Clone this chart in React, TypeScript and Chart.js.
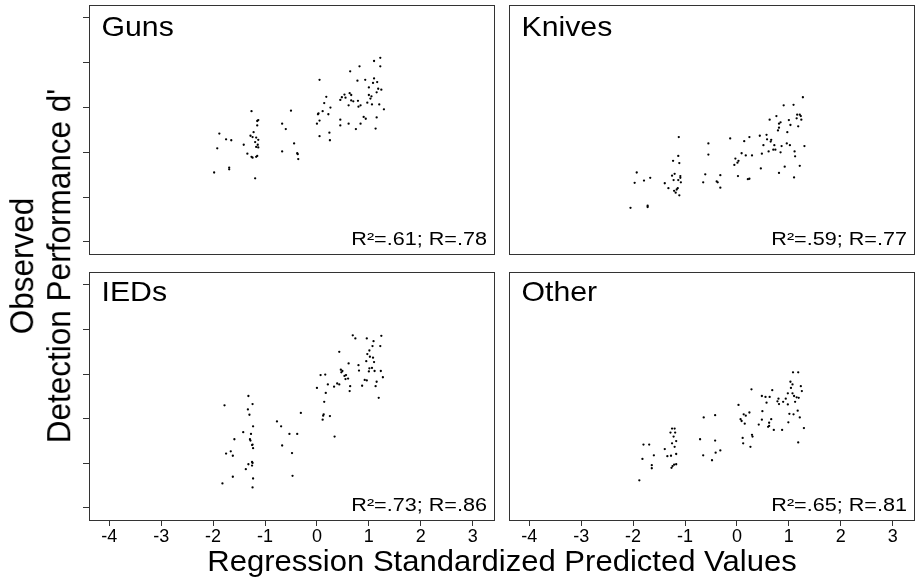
import React, { useEffect, useRef } from 'react';
import { Chart, registerables } from 'chart.js';

Chart.register(...registerables);

// ---------- data ----------
const xTickValues = [-4, -3, -2, -1, 0, 1, 2, 3];
const xTickLabels = ['-4', '-3', '-2', '-1', '0', '1', '2', '3'];
const yTickValues = [0, 1, 2, 3, 4, 5];
const xMin = -4.39;
const xMax = 3.41;
const yMin = -0.27;
const yMax = 5.29;

const panelNames = ['Guns', 'Knives', 'IEDs', 'Other'];
const fitTexts = ['R\u00B2=.61; R=.78', 'R\u00B2=.59; R=.77', 'R\u00B2=.73; R=.86', 'R\u00B2=.65; R=.81'];
const xAxisTitle = 'Regression Standardized Predicted Values';
const yAxisTitleLines = ['Observed', "Detection Performance d'"];

const gunsX = [1.22, 1.10, 0.82, 1.22, 0.64, 0.05, 0.93, 0.78, 1.10, 1.08, 1.16, 1.00, 1.18, 1.24, 1.15, 0.63, 0.66, 0.53, 1.00, 1.05, 0.18, 0.48, 0.55, 1.03, 0.45, 0.66, 0.70, 0.79, 0.97, 0.14, 1.06, 1.20, 0.61, 0.80, 0.84, 0.26, 1.29, 0.11, -1.26, -0.50, 0.03, 0.02, 0.22, 0.90, 0.94, 1.15, 0.45, -1.13, -1.15, 0.05, -0.67, -1.15, 0.00, 0.45, 0.61, 0.84, -0.60, 0.75, 1.13, 0.24, -1.22, -1.88, -1.28, -1.24, -1.17, -1.75, -1.65, -1.13, 0.05, 0.25, -1.19, -1.41, -1.14, -0.44, -1.17, -1.13, -1.92, -1.34, -0.67, -0.38, -0.37, -1.26, -1.24, -1.17, -1.15, -0.36, -1.69, -1.69, -1.98, -1.19];
const gunsY = [4.11, 4.04, 3.92, 3.92, 3.81, 3.62, 3.62, 3.60, 3.65, 3.55, 3.57, 3.45, 3.42, 3.40, 3.34, 3.32, 3.28, 3.29, 3.28, 3.25, 3.24, 3.23, 3.22, 3.20, 3.17, 3.16, 3.14, 3.15, 3.11, 3.10, 3.07, 3.07, 3.05, 3.02, 3.05, 3.00, 2.96, 2.92, 2.92, 2.93, 2.87, 2.85, 2.85, 2.79, 2.75, 2.78, 2.73, 2.72, 2.70, 2.71, 2.64, 2.60, 2.64, 2.60, 2.64, 2.64, 2.52, 2.52, 2.53, 2.44, 2.45, 2.42, 2.37, 2.34, 2.33, 2.29, 2.27, 2.28, 2.36, 2.27, 2.23, 2.17, 2.17, 2.20, 2.12, 2.11, 2.09, 1.97, 2.02, 1.98, 1.96, 1.90, 1.88, 1.90, 1.92, 1.85, 1.66, 1.62, 1.55, 1.42];

const knivesX = [1.27, 0.90, 1.09, 0.76, 1.16, 1.21, 1.23, 1.15, 1.24, 0.63, 1.00, 0.84, 0.81, 1.03, 1.18, 0.81, 0.79, 0.97, -1.12, -0.13, 0.24, 0.44, 0.57, 0.14, 0.58, 0.66, 0.65, -0.55, 0.51, 0.72, 0.96, 1.02, 0.86, 0.70, 0.74, 0.61, 0.48, 0.84, 1.11, 1.30, 0.09, 0.17, 0.29, 1.12, -0.55, -1.13, -1.23, -1.11, -0.03, 0.03, 0.01, -0.05, 0.92, 1.21, 0.46, -1.93, 0.81, -0.61, -0.32, -1.20, -1.25, -1.09, -1.09, -1.67, 0.02, 1.10, -1.97, -1.79, -1.22, -1.13, -1.08, -1.39, -0.65, -0.39, -0.37, 0.21, 0.24, -1.32, -1.14, -1.16, -1.21, -1.18, -0.32, -1.11, -1.72, -1.72, -2.05];
const knivesY = [3.23, 3.05, 3.06, 2.81, 2.84, 2.84, 2.81, 2.76, 2.73, 2.73, 2.72, 2.67, 2.64, 2.61, 2.58, 2.55, 2.49, 2.45, 2.34, 2.31, 2.34, 2.37, 2.39, 2.25, 2.29, 2.28, 2.24, 2.20, 2.16, 2.16, 2.20, 2.16, 2.14, 2.06, 2.06, 2.02, 1.97, 2.00, 2.02, 2.14, 1.98, 1.93, 1.93, 1.91, 1.95, 1.92, 1.81, 1.76, 1.86, 1.81, 1.77, 1.72, 1.68, 1.70, 1.64, 1.55, 1.54, 1.51, 1.49, 1.52, 1.48, 1.47, 1.43, 1.43, 1.47, 1.44, 1.32, 1.37, 1.38, 1.38, 1.33, 1.31, 1.33, 1.35, 1.33, 1.40, 1.41, 1.20, 1.20, 1.17, 1.14, 1.10, 1.21, 1.04, 0.81, 0.78, 0.76];

const iedsX = [0.69, 0.74, 0.96, 1.24, 1.09, 1.07, 1.22, 0.43, 1.01, 0.97, 1.02, 1.08, 1.10, 0.95, 0.61, 0.80, 0.81, 1.01, 1.06, 1.00, 1.11, 1.23, 0.46, 0.49, 0.47, 0.07, 0.16, 0.53, 0.56, 0.55, 0.60, 1.27, 0.92, 0.96, 1.15, 0.39, 0.43, 0.21, 0.33, 0.64, 0.87, 1.13, 0.00, 0.63, 0.17, 1.19, -1.32, -1.78, -1.24, 0.14, -1.33, -1.30, -0.31, 0.13, 0.12, 0.25, 0.11, -0.77, -0.69, -1.23, -1.42, -1.27, -0.53, -0.38, 0.34, -1.29, -1.28, -1.59, -1.24, -1.25, -0.67, -1.23, -1.66, -1.75, -1.62, -0.48, -1.25, -1.24, -1.32, -1.25, -1.37, -0.47, -1.62, -1.23, -1.82, -1.24];
const iedsY = [3.87, 3.80, 3.80, 3.86, 3.74, 3.63, 3.63, 3.50, 3.53, 3.45, 3.39, 3.37, 3.27, 3.29, 3.24, 3.20, 3.08, 3.13, 3.14, 3.06, 3.07, 3.07, 3.10, 3.07, 3.04, 2.98, 2.99, 2.96, 2.98, 2.89, 2.90, 2.93, 2.87, 2.86, 2.83, 2.79, 2.77, 2.77, 2.72, 2.73, 2.74, 2.73, 2.69, 2.62, 2.58, 2.47, 2.51, 2.30, 2.33, 2.38, 2.21, 2.09, 2.13, 2.10, 2.07, 2.06, 1.98, 1.94, 1.83, 1.83, 1.70, 1.66, 1.66, 1.66, 1.60, 1.54, 1.51, 1.54, 1.42, 1.41, 1.40, 1.34, 1.27, 1.22, 1.17, 1.23, 1.03, 1.01, 0.98, 0.95, 0.87, 0.72, 0.70, 0.66, 0.55, 0.46];

const otherX = [1.08, 1.18, 1.03, 1.07, 1.23, 1.04, 0.28, 0.68, 1.25, 0.98, 1.07, 0.48, 0.55, 1.10, 1.15, 0.63, 0.80, 0.78, 0.94, 0.89, 0.57, 0.81, 0.98, 0.03, 1.12, 1.19, 0.49, 0.24, 0.13, 0.17, 1.01, 1.09, 1.17, 0.07, 0.09, 0.48, 0.66, -0.64, -0.42, 0.15, 0.42, 0.62, 0.62, 1.21, 0.99, 0.71, 0.87, 1.29, 0.60, -1.25, -1.20, 0.29, 0.30, -1.28, -1.19, -1.22, 0.11, -0.71, -0.42, -1.17, 1.18, 0.12, -1.25, -1.80, -1.69, -1.20, 0.26, -1.39, -0.32, -0.41, -1.17, -1.34, -1.27, -1.60, -0.65, -1.82, -0.48, -1.17, -1.21, -1.24, -1.64, -1.64, -1.26, -1.88];
const otherY = [3.04, 3.04, 2.83, 2.77, 2.73, 2.69, 2.66, 2.64, 2.62, 2.57, 2.57, 2.51, 2.49, 2.51, 2.48, 2.49, 2.45, 2.39, 2.45, 2.38, 2.36, 2.33, 2.32, 2.31, 2.38, 2.47, 2.17, 2.14, 2.10, 2.07, 2.11, 2.10, 2.18, 1.99, 1.95, 1.98, 1.99, 2.03, 2.08, 1.89, 1.87, 1.91, 1.84, 2.03, 1.92, 1.75, 1.75, 1.79, 1.82, 1.78, 1.78, 1.64, 1.60, 1.69, 1.69, 1.60, 1.57, 1.54, 1.51, 1.50, 1.47, 1.45, 1.45, 1.42, 1.42, 1.37, 1.37, 1.32, 1.29, 1.24, 1.21, 1.16, 1.17, 1.18, 1.18, 1.10, 1.07, 0.98, 0.97, 0.94, 0.96, 0.89, 0.90, 0.62];

const seriesX = [gunsX, knivesX, iedsX, otherX];
const seriesY = [gunsY, knivesY, iedsY, otherY];

// ---------- layout ----------
const FONT = '"Liberation Sans", Arial, Helvetica, sans-serif';

type PanelLayout = {
  left: number; top: number; w: number; h: number;
  pad: { left: number; right: number; top: number; bottom: number };
  showY: boolean; showX: boolean; labelDy: number;
};

const layouts: PanelLayout[] = [
  { left: 60, top: 0, w: 436, h: 256, pad: { left: 0, right: 2, top: 5, bottom: 2 }, showY: true, showX: false, labelDy: 31 },
  { left: 505, top: 0, w: 413, h: 256, pad: { left: 4, right: 4, top: 5, bottom: 2 }, showY: false, showX: false, labelDy: 31 },
  { left: 60, top: 262, w: 436, h: 320, pad: { left: 0, right: 2, top: 10, bottom: 32 }, showY: true, showX: true, labelDy: 29 },
  { left: 505, top: 262, w: 413, h: 320, pad: { left: 4, right: 4, top: 10, bottom: 32 }, showY: false, showX: true, labelDy: 29 },
];

const panelDecor = {
  id: 'panelDecor',
  afterDatasetsDraw(chart: any, _args: any, opts: any) {
    const { ctx, chartArea: a } = chart;
    ctx.save();
    ctx.strokeStyle = '#333';
    ctx.lineWidth = 1;
    ctx.strokeRect(a.left + 0.5, a.top + 0.5, a.right - a.left, a.bottom - a.top);
    ctx.fillStyle = '#000';
    ctx.textBaseline = 'alphabetic';
    // panel name
    ctx.save();
    ctx.font = '28px ' + FONT;
    ctx.textAlign = 'left';
    ctx.translate(a.left + 12.5, a.top + opts.labelDy);
    ctx.scale(1.08, 1);
    ctx.fillText(opts.label, 0, 0);
    ctx.restore();
    // fit statistics
    ctx.save();
    ctx.font = '18px ' + FONT;
    ctx.textAlign = 'right';
    ctx.translate(a.right - 7, a.bottom - 9);
    ctx.scale(1.2, 1);
    ctx.fillText(opts.fit, 0, 0);
    ctx.restore();
    ctx.restore();
  },
};

function Panel({ idx }: { idx: number }) {
  const ref = useRef<HTMLCanvasElement>(null);
  const L = layouts[idx];
  useEffect(() => {
    const xs = seriesX[idx];
    const ys = seriesY[idx];
    const n = Math.min(xs.length, ys.length);
    const pts = [] as { x: number; y: number }[];
    for (let i = 0; i < n; i++) pts.push({ x: xs[i], y: ys[i] });
    const chart = new Chart(ref.current as HTMLCanvasElement, {
      type: 'scatter',
      data: {
        datasets: [{
          data: pts,
          pointRadius: 1.15,
          pointHoverRadius: 1.15,
          pointBackgroundColor: '#000',
          pointBorderWidth: 0,
          showLine: false,
        }],
      },
      options: {
        animation: false,
        responsive: false,
        maintainAspectRatio: false,
        devicePixelRatio: 1,
        events: [],
        layout: { padding: L.pad },
        plugins: {
          legend: { display: false },
          tooltip: { enabled: false },
          panelDecor: { label: panelNames[idx], fit: fitTexts[idx], labelDy: L.labelDy },
        } as any,
        scales: {
          x: {
            type: 'linear',
            min: xMin,
            max: xMax,
            display: L.showX,
            afterBuildTicks: (s: any) => { s.ticks = xTickValues.map((v) => ({ value: v })); },
            afterFit: (s: any) => { s.height = L.showX ? 30 : 0; },
            grid: { display: true, drawOnChartArea: false, drawTicks: true, tickLength: 6, color: '#333', lineWidth: 1 },
            border: { display: false },
            ticks: {
              padding: 0,
              color: '#000',
              font: { family: FONT, size: 18 },
              maxRotation: 0,
              autoSkip: false,
              callback: (_v: any, i: number) => xTickLabels[i],
            },
          },
          y: {
            type: 'linear',
            min: yMin,
            max: yMax,
            display: L.showY,
            afterBuildTicks: (s: any) => { s.ticks = yTickValues.map((v) => ({ value: v })); },
            afterFit: (s: any) => { s.width = L.showY ? 29 : 0; },
            grid: { display: true, drawOnChartArea: false, drawTicks: true, tickLength: 6, color: '#333', lineWidth: 1 },
            border: { display: false },
            ticks: { display: false },
          },
        },
      } as any,
      plugins: [panelDecor as any],
    });
    return () => chart.destroy();
  }, []);
  return (
    <canvas
      ref={ref}
      width={L.w}
      height={L.h}
      style={{ position: 'absolute', left: L.left, top: L.top, width: L.w, height: L.h }}
    />
  );
}

export default function App() {
  return (
    <div style={{ position: 'absolute', left: 0, top: 0, width: 918, height: 582, background: '#fff', overflow: 'hidden' }}>
      {[0, 1, 2, 3].map((i) => <Panel key={i} idx={i} />)}
      <div
        style={{
          position: 'absolute', left: 40 - 250, top: 266 - 34, width: 500, height: 68,
          transform: 'rotate(-90deg) scale(1, 1.08)', transformOrigin: '250px 34px',
          fontFamily: FONT, fontSize: 31.5, lineHeight: '34px', textAlign: 'center', color: '#000',
          whiteSpace: 'nowrap',
        }}
      >
        <div>{yAxisTitleLines[0]}</div>
        <div>{yAxisTitleLines[1]}</div>
      </div>
      <div
        style={{
          position: 'absolute', left: 502 - 400, top: 572 - 0.8465 * 29, width: 800,
          fontFamily: FONT, fontSize: 29, lineHeight: '29px', textAlign: 'center', color: '#000',
          transform: 'scaleX(1.07)', transformOrigin: '400px 0px', whiteSpace: 'nowrap',
        }}
      >
        {xAxisTitle}
      </div>
    </div>
  );
}
